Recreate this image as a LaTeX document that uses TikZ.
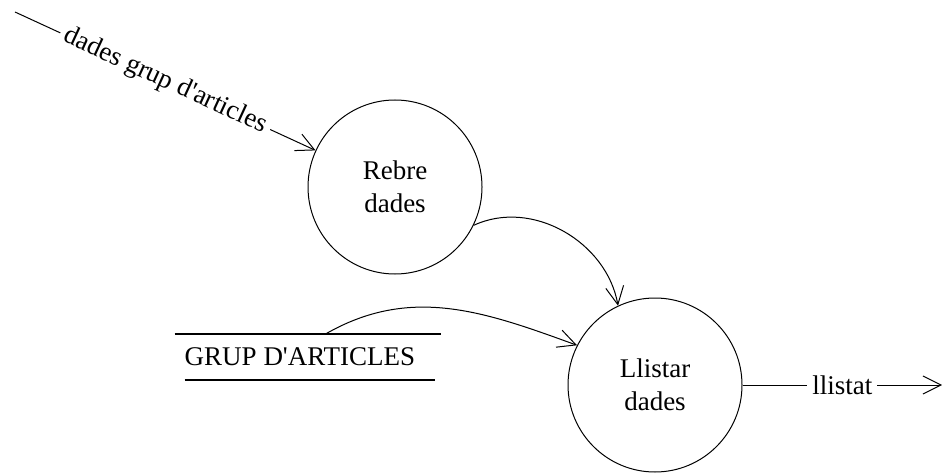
\documentclass[tikz,border=0pt]{standalone}
\usepackage{fontspec}
\setmainfont{Liberation Serif}
\usetikzlibrary{arrows.meta, positioning}

\begin{document}
\begin{tikzpicture}[x=1pt, y=1pt,
        process/.style={circle, draw=black, line width=1pt, minimum size=174pt, inner sep=0pt, align=center, font=\fontsize{27}{33}\selectfont},
        store/.style={inner sep=0pt, minimum height=45pt, font=\fontsize{27}{33}\selectfont},
        storeline/.style={line width=2.2pt},
        flowlabel/.style={fill=white, inner sep=5pt, font=\fontsize{27}{33}\selectfont},
        line/.style={draw, line width=1pt, -{Straight Barb[length=18pt, width=18pt, line width=1pt]}}
    ]
        \useasboundingbox (0,0) rectangle (942,472);

        \node [process] (rebre) at (395,285) {Rebre\\dades};
        \node [process] (llistar) at (655,87) {Llistar\\dades};
        \node [store] (grup) at (300,115) {GRUP D\textquotesingle ARTICLES};
        \coordinate (src) at (15,460);
        \coordinate (out) at (942,87);

        % data store lines
        \draw [storeline] ([xshift=-10pt]grup.north west) -- ([xshift=26pt]grup.north east);
        \draw [storeline] (grup.south west) -- ([xshift=20pt]grup.south east);

        \path [line] (src) -- node[flowlabel, sloped] {dades grup d\textquotesingle articles} (rebre);
        \path [line] (rebre.-26) to[out=25, in=100] (llistar.115);
        \path [line] ([xshift=25pt]grup.north) to[out=30, in=160] (llistar.153);
        \path [line] (llistar.east) -- node[flowlabel] {llistat} (out);
    \end{tikzpicture}
\end{document}
